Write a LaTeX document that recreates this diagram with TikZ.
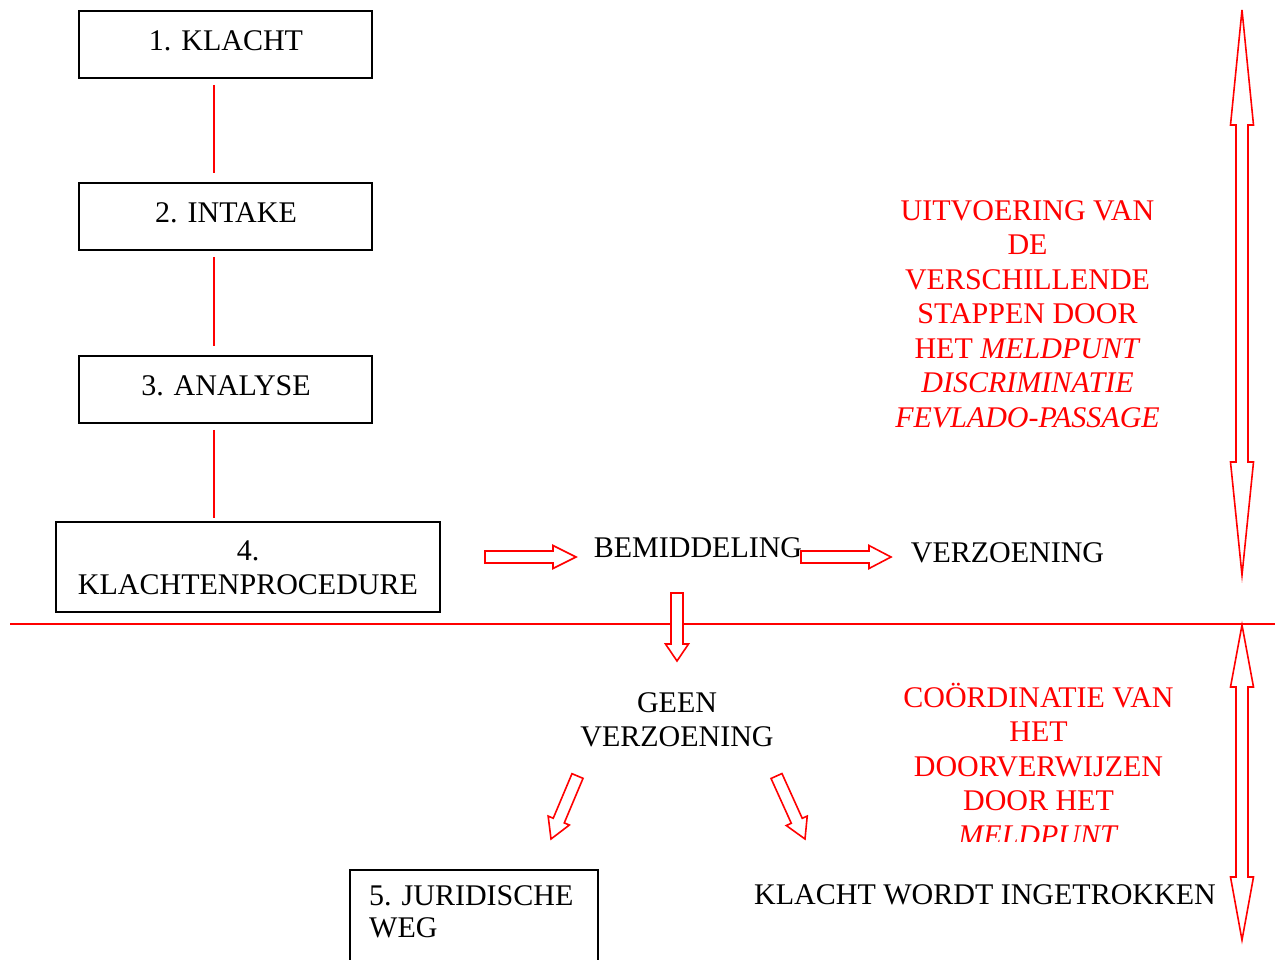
\documentclass[tikz,border=0pt]{standalone}
\usepackage{fontspec}
\setmainfont{Liberation Serif}
\usetikzlibrary{calc}
\definecolor{rd}{RGB}{255,0,0}
\tikzset{
  box/.style={draw=black, line width=1.6pt, inner sep=0pt},
  txt/.style={font=\fontsize{30}{34.5}\selectfont, inner sep=0pt, align=center},
  redtxt/.style={txt, text=rd},
  link/.style={draw=rd, line width=1.6pt},
  barrow/.style={draw=rd, line width=1.6pt, fill=white, line join=miter},
}
\newcommand\blockarr[3]{%
  \coordinate (hb) at ($(#2)!#3pt!(#1)$);
  \draw[barrow] ($(#1)!6pt!90:(#2)$) -- ($(hb)!6pt!90:(#2)$) -- ($(hb)!11.5pt!90:(#2)$) -- (#2)
     -- ($(hb)!11.5pt!-90:(#2)$) -- ($(hb)!6pt!-90:(#2)$) -- ($(#1)!6pt!-90:(#2)$) -- cycle;}
\begin{document}
\begin{tikzpicture}[x=1pt,y=-1pt]
\useasboundingbox (0,0) rectangle (1275,959);
% boxes
\node[box, minimum width=293pt, minimum height=67pt] (k1) at (225.5,44.5) {};
\node[box, minimum width=293pt, minimum height=67pt] (k2) at (225.5,216.5) {};
\node[box, minimum width=293pt, minimum height=67pt] (k3) at (225.5,389.5) {};
\node[box, minimum width=384pt, minimum height=90pt] (k4) at (248,567) {};
\node[box, minimum width=248pt, minimum height=110pt] (k5) at (474,925) {};
% box texts
\node[txt, anchor=base] (t1) at (226,50) {1. KLACHT};
\node[txt, anchor=base] (t2) at (226,222) {2. INTAKE};
\node[txt, anchor=base] (t3) at (226,395) {3. ANALYSE};
\node[txt, anchor=base] (t4a) at (248,560) {4.};
\node[txt, anchor=base] (t4b) at (248,594) {KLACHTENPROCEDURE};
\node[txt, anchor=base west] (t5a) at (369,905) {5. JURIDISCHE};
\node[txt, anchor=base west] (t5b) at (369,937) {WEG};
% connectors between boxes
\draw[link] ($(k1.south)+(-11.5,6)$) -- ($(k2.north)+(-11.5,-9)$);
\draw[link] ($(k2.south)+(-11.5,6)$) -- ($(k3.north)+(-11.5,-9)$);
\draw[link] ($(k3.south)+(-11.5,6)$) -- ($(k4.north)+(-34,-3)$);
% horizontal separator
\coordinate (sepL) at (10,624);
\coordinate (sepR) at (1275,624);
\draw[link] (sepL) -- (sepR);
% middle texts
\node[txt, anchor=base] (bem) at (698,557) {BEMIDDELING};
\node[txt, anchor=base] (verz) at (1007.5,562) {VERZOENING};
\node[txt, anchor=base] (geen1) at (677,712) {GEEN};
\node[txt, anchor=base] (geen2) at (677,746) {VERZOENING};
\node[txt, anchor=base west] (ingetr) at (754,904) {KLACHT WORDT INGETROKKEN};
% block arrows
\coordinate (a1s) at (485,557); \coordinate (a1e) at (576,557);
\blockarr{a1s}{a1e}{23}
\coordinate (a2s) at (801,557); \coordinate (a2e) at (891,557);
\blockarr{a2s}{a2e}{22}
\coordinate (a3s) at (677,593); \coordinate (a3e) at (677,661);
\blockarr{a3s}{a3e}{17}
\coordinate (a4s) at (577.5,776); \coordinate (a4e) at (551,839);
\blockarr{a4s}{a4e}{20}
\coordinate (a5s) at (776.5,776); \coordinate (a5e) at (805,839);
\blockarr{a5s}{a5e}{20}
% double arrows
\draw[barrow] (1242,10) -- (1253.5,125) -- (1248,125) -- (1248,462) -- (1253.5,462) -- (1242,575)
  -- (1230.5,462) -- (1236,462) -- (1236,125) -- (1230.5,125) -- cycle;
\draw[barrow] (1242,625) -- (1253.5,687) -- (1248,687) -- (1248,877) -- (1253.5,877) -- (1242,940)
  -- (1230.5,877) -- (1236,877) -- (1236,687) -- (1230.5,687) -- cycle;
% red texts
\node[redtxt, anchor=base] (r1) at (1027.5,427) {UITVOERING VAN\\DE\\VERSCHILLENDE\\STAPPEN DOOR\\HET \textit{MELDPUNT}\\\textit{DISCRIMINATIE}\\\textit{FEVLADO-PASSAGE}};
\begin{scope}
\clip (870,650) rectangle (1215,841);
\node[redtxt, anchor=base] (r2) at (1038.5,845) {COÖRDINATIE VAN\\HET\\DOORVERWIJZEN\\DOOR HET\\\textit{MELDPUNT}};
\end{scope}
\end{tikzpicture}
\end{document}
